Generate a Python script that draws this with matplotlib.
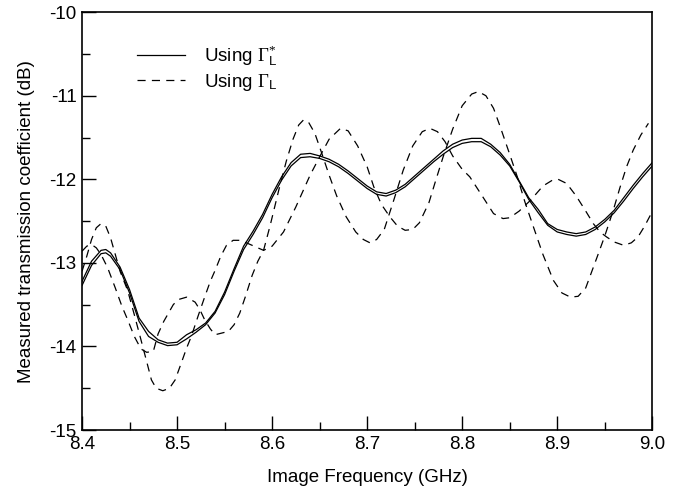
import numpy as np
import matplotlib
matplotlib.use("Agg")
import matplotlib.pyplot as plt
from matplotlib.ticker import MultipleLocator, FormatStrFormatter

plt.rcParams.update({"font.family": "Liberation Sans", "font.size": 13.5,
                     "axes.unicode_minus": False,
                     "mathtext.fontset": "custom", "mathtext.rm": "Liberation Serif",
                     "mathtext.sf": "Liberation Sans", "mathtext.it": "Liberation Serif:italic"})

# solid traces (using Gamma_L*), shared frequency grid
f_solid = [8.40, 8.41, 8.42, 8.425, 8.43, 8.44, 8.45, 8.46, 8.47, 8.48, 8.49, 8.50,
           8.51, 8.52, 8.53, 8.54, 8.55, 8.56, 8.57, 8.58, 8.59, 8.60, 8.61, 8.62,
           8.63, 8.64, 8.65, 8.66, 8.67, 8.68, 8.69, 8.70, 8.71, 8.72, 8.73, 8.74,
           8.75, 8.76, 8.77, 8.78, 8.79, 8.80, 8.81, 8.82, 8.83, 8.84, 8.85, 8.86,
           8.87, 8.88, 8.89, 8.90, 8.91, 8.92, 8.93, 8.94, 8.95, 8.96, 8.97, 8.98,
           8.99, 9.00]
solid_1 = [-13.22, -12.98, -12.85, -12.84, -12.88, -13.05, -13.32, -13.66, -13.82, -13.92, -13.96, -13.95,
           -13.86, -13.80, -13.72, -13.58, -13.35, -13.07, -12.80, -12.62, -12.42, -12.18, -11.97, -11.80,
           -11.70, -11.69, -11.72, -11.76, -11.82, -11.90, -11.99, -12.08, -12.15, -12.17, -12.13, -12.06,
           -11.96, -11.86, -11.76, -11.66, -11.58, -11.53, -11.51, -11.51, -11.58, -11.68, -11.82, -12.02,
           -12.22, -12.36, -12.53, -12.60, -12.63, -12.65, -12.63, -12.57, -12.48, -12.37, -12.22, -12.07,
           -11.93, -11.80]
solid_2 = [-13.27, -13.03, -12.89, -12.88, -12.92, -13.08, -13.36, -13.70, -13.88, -13.95, -13.99, -13.98,
           -13.91, -13.83, -13.74, -13.60, -13.38, -13.10, -12.84, -12.66, -12.46, -12.22, -12.01, -11.84,
           -11.74, -11.73, -11.75, -11.79, -11.85, -11.93, -12.02, -12.11, -12.18, -12.20, -12.16, -12.09,
           -11.99, -11.89, -11.79, -11.70, -11.62, -11.57, -11.55, -11.55, -11.61, -11.71, -11.84, -12.03,
           -12.24, -12.40, -12.55, -12.63, -12.66, -12.68, -12.66, -12.60, -12.51, -12.40, -12.26, -12.11,
           -11.97, -11.84]

# dashed traces (using Gamma_L)
f_dash_a = [8.400, 8.405, 8.410, 8.415, 8.420, 8.425, 8.430, 8.435, 8.440, 8.448, 8.455, 8.462,
            8.468, 8.473, 8.478, 8.485, 8.492, 8.498, 8.505, 8.510, 8.515, 8.522, 8.529, 8.535,
            8.540, 8.546, 8.552, 8.559, 8.566, 8.575, 8.585, 8.591, 8.600, 8.612, 8.625, 8.640,
            8.651, 8.660, 8.672, 8.680, 8.690, 8.700, 8.707, 8.715, 8.724, 8.732, 8.740, 8.748,
            8.755, 8.765, 8.772, 8.780, 8.790, 8.800, 8.810, 8.817, 8.825, 8.833, 8.840, 8.850,
            8.858, 8.866, 8.875, 8.885, 8.896, 8.905, 8.914, 8.922, 8.930, 8.942, 8.950, 8.959,
            8.966, 8.973, 8.980, 8.988, 8.996]
dash_a = [-13.10, -12.92, -12.72, -12.58, -12.53, -12.56, -12.70, -12.90, -13.10, -13.33, -13.62, -13.92,
          -14.18, -14.40, -14.50, -14.53, -14.50, -14.40, -14.18, -14.02, -13.88, -13.64, -13.41, -13.22,
          -13.09, -12.92, -12.79, -12.73, -12.73, -12.77, -12.82, -12.85, -12.80, -12.63, -12.33, -11.95,
          -11.71, -11.52, -11.39, -11.42, -11.60, -11.85, -12.09, -12.30, -12.45, -12.56, -12.61, -12.60,
          -12.52, -12.28, -12.02, -11.73, -11.40, -11.12, -10.98, -10.95, -11.00, -11.15, -11.37, -11.70,
          -11.97, -12.27, -12.57, -12.90, -13.21, -13.36, -13.41, -13.40, -13.30, -12.93, -12.68, -12.37,
          -12.10, -11.85, -11.65, -11.47, -11.33]

f_dash_b = [8.400, 8.405, 8.410, 8.415, 8.420, 8.427, 8.435, 8.442, 8.448, 8.455, 8.462, 8.468,
            8.475, 8.480, 8.486, 8.491, 8.496, 8.501, 8.510, 8.519, 8.524, 8.529, 8.535, 8.540,
            8.547, 8.554, 8.560, 8.566, 8.572, 8.579, 8.585, 8.591, 8.598, 8.607, 8.615, 8.622,
            8.628, 8.633, 8.638, 8.645, 8.652, 8.660, 8.668, 8.678, 8.688, 8.696, 8.703, 8.710,
            8.718, 8.728, 8.738, 8.748, 8.758, 8.766, 8.774, 8.782, 8.790, 8.800, 8.808, 8.820,
            8.833, 8.843, 8.850, 8.860, 8.872, 8.885, 8.895, 8.901, 8.910, 8.920, 8.930, 8.938,
            8.945, 8.952, 8.960, 8.970, 8.978, 8.985, 8.992, 8.998]
dash_b = [-12.86, -12.80, -12.78, -12.82, -12.90, -13.06, -13.30, -13.52, -13.68, -13.88, -14.03, -14.07,
          -14.06, -13.85, -13.70, -13.60, -13.50, -13.44, -13.41, -13.47, -13.56, -13.68, -13.79, -13.86,
          -13.84, -13.82, -13.74, -13.60, -13.40, -13.15, -12.98, -12.85, -12.55, -12.13, -11.78, -11.52,
          -11.35, -11.29, -11.31, -11.45, -11.68, -11.95, -12.20, -12.45, -12.63, -12.72, -12.76, -12.72,
          -12.60, -12.25, -11.89, -11.60, -11.43, -11.39, -11.43, -11.55, -11.72, -11.88, -11.97, -12.18,
          -12.41, -12.47, -12.46, -12.38, -12.25, -12.08, -12.01, -12.00, -12.05, -12.20, -12.38, -12.53,
          -12.63, -12.69, -12.75, -12.79, -12.76, -12.69, -12.56, -12.43]

fig = plt.figure(figsize=(6.78, 4.87), dpi=100)
ax = fig.add_axes([0.121, 0.117, 0.841, 0.858])

lw = 0.9
ax.plot(f_solid, solid_1, color="black", lw=lw, label=r"Using $\Gamma_{\mathsf{L}}^{*}$")
ax.plot(f_solid, solid_2, color="black", lw=lw)
ax.plot(f_dash_a, dash_a, color="black", lw=lw, dashes=(6.5, 5), label=r"Using $\Gamma_{\mathsf{L}}$")
ax.plot(f_dash_b, dash_b, color="black", lw=lw, dashes=(6.5, 5))

ax.set_xlim(8.4, 9.0); ax.set_ylim(-15, -10)
ax.xaxis.set_major_locator(MultipleLocator(0.1)); ax.xaxis.set_minor_locator(MultipleLocator(0.05))
ax.yaxis.set_major_locator(MultipleLocator(1)); ax.yaxis.set_minor_locator(MultipleLocator(0.5))
ax.xaxis.set_major_formatter(FormatStrFormatter("%.1f"))
ax.tick_params(which="both", direction="in", width=1.0, top=False, right=False, labelsize=13.5, pad=4)
ax.tick_params(which="major", length=10)
ax.tick_params(which="minor", length=6)
for s in ax.spines.values(): s.set_linewidth(1.2)

ax.set_xlabel("Image Frequency (GHz)", fontsize=13.5, labelpad=12)
ax.set_ylabel("Measured transmission coefficient (dB)", fontsize=13.5, labelpad=10)

ax.legend(loc="upper left", bbox_to_anchor=(0.066, 0.965), frameon=False, fontsize=13.5,
          handlelength=2.6, handletextpad=1.0, labelspacing=0.2)

fig.savefig("out.png", dpi=100)
